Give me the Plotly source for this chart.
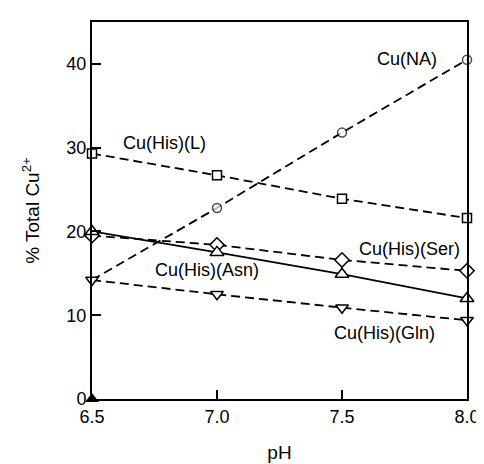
import plotly.graph_objects as go

ph = [6.5, 7.0, 7.5, 8.0]
cu_na = [14.2, 22.8, 31.8, 40.5]
cu_his_l = [29.3, 26.7, 23.9, 21.6]
cu_his_ser = [19.5, 18.4, 16.6, 15.3]
cu_his_asn = [20.0, 17.5, 14.9, 12.0]
cu_his_gln = [14.2, 12.5, 10.9, 9.4]
zero_x = [6.5]
zero_y = [0]

FONT = "Liberation Sans, Arial, sans-serif"
DASH = "9px,5px"

fig = go.Figure()

def add(y, symbol, size, dash, sizes=None):
    fig.add_trace(go.Scatter(
        x=ph, y=y, mode="lines+markers", cliponaxis=False,
        line=dict(color="black", width=1.8, dash=dash),
        marker=dict(symbol=symbol, size=sizes if sizes else size, color="white",
                    line=dict(color="black", width=1.5)),
        showlegend=False))

add(cu_na, "circle", 9, DASH, sizes=[0, 9, 9, 9])
add(cu_his_l, "square", 9, DASH)
add(cu_his_ser, "diamond", 11, DASH)
add(cu_his_asn, "triangle-up", 12, "solid")
add(cu_his_gln, "triangle-down", 11, DASH)

fig.add_trace(go.Scatter(x=zero_x, y=zero_y, mode="markers", cliponaxis=False,
                         marker=dict(symbol="triangle-up", size=12, color="black"),
                         showlegend=False))

labels = [
    ("Cu(NA)", 7.76, 40.6),
    ("Cu(His)(L)", 6.79, 30.6),
    ("Cu(His)(Ser)", 7.77, 17.9),
    ("Cu(His)(Asn)", 6.96, 15.4),
    ("Cu(His)(Gln)", 7.67, 7.9),
]
for t, x, y in labels:
    fig.add_annotation(x=x, y=y, text=t, showarrow=False,
                       font=dict(family=FONT, size=18, color="black"))

axis_common = dict(showline=True, linecolor="black", linewidth=2, mirror=True,
                   ticks="inside", ticklen=9, tickwidth=1.5, tickcolor="black",
                   showgrid=False, zeroline=False,
                   tickfont=dict(family=FONT, size=18, color="black"))

fig.update_xaxes(range=[6.5, 8.0], tickvals=[6.5, 7.0, 7.5, 8.0],
                 ticktext=["6.5", "7.0", "7.5", "8.0"],
                 title=dict(text="pH", font=dict(family=FONT, size=19, color="black"), standoff=20),
                 **axis_common)
fig.update_yaxes(range=[0, 45], tickvals=[0, 10, 20, 30, 40],
                 title=dict(text="% Total Cu<sup>2+</sup>",
                            font=dict(family=FONT, size=19, color="black"), standoff=22),
                 **axis_common)

fig.update_layout(width=484, height=464, margin=dict(l=84, r=14, t=13, b=68),
                  plot_bgcolor="white", paper_bgcolor="white")

fig.write_html("out.html")
